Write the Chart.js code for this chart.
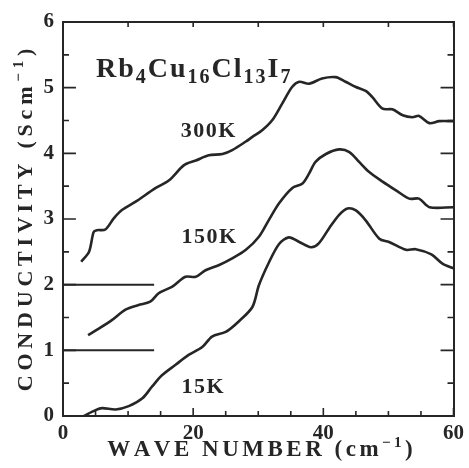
<!DOCTYPE html>
<html>
<head>
<meta charset="utf-8">
<script src="https://cdn.jsdelivr.net/npm/chart.js@4/dist/chart.umd.min.js"></script>
<style>
  html, body { margin: 0; padding: 0; background: #ffffff; }
  #wrap { width: 469px; height: 468px; }
</style>
</head>
<body>
<div id="wrap"><canvas id="c" width="469" height="468"></canvas></div>
<script>
// Optical conductivity of Rb4Cu16Cl13I7 at three temperatures.
// Curves at 150 K and 300 K are shifted upward by 1 and 2 units.
const wave300  = [2.8, 4.0, 4.7, 5.2, 6.5, 7.8, 9.1, 11.1, 14.2, 16.3, 18.6, 20.4, 22.4, 24.5, 26.0, 28.1, 29.1, 30.6, 32.2, 33.7, 35.2, 36.3, 37.8, 39.8, 41.9, 43.4, 45.0, 46.5, 47.5, 49.1, 50.6, 52.2, 53.7, 54.7, 56.3, 57.8, 60.0];
const sigma300 = [2.35, 2.50, 2.80, 2.83, 2.84, 3.01, 3.14, 3.26, 3.47, 3.59, 3.82, 3.89, 3.97, 3.99, 4.05, 4.18, 4.25, 4.35, 4.51, 4.76, 5.01, 5.09, 5.06, 5.14, 5.16, 5.09, 5.01, 4.95, 4.86, 4.68, 4.67, 4.58, 4.55, 4.57, 4.46, 4.49, 4.49];

const wave150  = [3.85, 5.5, 7.5, 9.6, 11.6, 13.4, 14.7, 16.8, 18.8, 20.4, 21.9, 24.0, 26.0, 28.1, 30.1, 31.6, 33.2, 35.2, 36.8, 37.8, 38.8, 40.4, 42.4, 44.0, 45.5, 47.0, 49.1, 51.1, 53.2, 54.7, 56.3, 60.0];
const sigma150 = [1.23, 1.33, 1.46, 1.62, 1.69, 1.74, 1.87, 1.97, 2.12, 2.12, 2.22, 2.30, 2.40, 2.53, 2.73, 2.98, 3.24, 3.47, 3.54, 3.69, 3.87, 3.99, 4.06, 4.02, 3.87, 3.72, 3.57, 3.44, 3.31, 3.31, 3.18, 3.18];

const wave15   = [3.2, 5.0, 6.0, 8.1, 10.1, 12.2, 13.7, 15.2, 17.3, 19.3, 21.4, 22.9, 25.0, 27.0, 29.1, 30.1, 31.6, 33.2, 34.7, 36.3, 38.1, 39.3, 40.9, 42.4, 43.7, 45.0, 46.5, 48.6, 50.1, 52.7, 54.2, 56.6, 58.3, 60.0];
const sigma15  = [0.00, 0.09, 0.12, 0.10, 0.15, 0.27, 0.45, 0.62, 0.78, 0.93, 1.05, 1.21, 1.28, 1.44, 1.66, 1.99, 2.33, 2.62, 2.72, 2.65, 2.57, 2.63, 2.86, 3.06, 3.16, 3.13, 2.98, 2.70, 2.65, 2.53, 2.54, 2.46, 2.32, 2.25];

// zero levels of the shifted curves
const offsetLevels = [1, 2];
const offsetSpan = [0, 14];

const temperatures = ['15K', '150K', '300K'];

// axis ticks: labelled majors and unlabelled minors
const xTickValues  = [0, 20, 40, 60];
const xMinorValues = [0, 5, 10, 15, 20, 25, 30, 35, 40, 45, 50, 55, 60];
const xTopValues   = [0, 10, 20, 30, 40, 50, 60];
const yTickValues  = [0, 1, 2, 3, 4, 5, 6];
const yMinorValues = [0, 0.5, 1, 1.5, 2, 2.5, 3, 3.5, 4, 4.5, 5, 5.5, 6];

const X_RANGE = [0, 60];
const Y_RANGE = [0, 6];

const SERIF = '"Liberation Serif", "Times New Roman", serif';
const INK = '#262626';

// plot box size in pixels, used to turn tick-mark lengths into axis units
const PLOT_W = 392, PLOT_H = 394;
const xUnitsPerPx = (X_RANGE[1] - X_RANGE[0]) / PLOT_W;
const yUnitsPerPx = (Y_RANGE[1] - Y_RANGE[0]) / PLOT_H;

function pts(xs, ys) { return xs.map((x, i) => ({ x: x, y: ys[i] })); }

// short inward tick marks as broken line segments
function verticalMarks(values, base, lenPx, dir) {
  const out = [];
  values.forEach(v => {
    out.push({ x: v, y: base }, { x: v, y: base + dir * lenPx * yUnitsPerPx }, { x: v, y: null });
  });
  return out;
}
function horizontalMarks(values, base, lenPx, dir) {
  const out = [];
  values.forEach(v => {
    out.push({ x: base, y: v }, { x: base + dir * lenPx * xUnitsPerPx, y: v }, { x: null, y: v });
  });
  return out;
}

function runsWidth(ctx, runs, sp) {
  let w = 0;
  runs.forEach(r => {
    ctx.font = 'bold ' + r.size + 'px ' + SERIF;
    for (const ch of r.t) w += ctx.measureText(ch).width + sp;
  });
  return w - sp;
}
function drawRuns(ctx, runs, x, y, sp) {
  runs.forEach(r => {
    ctx.font = 'bold ' + r.size + 'px ' + SERIF;
    for (const ch of r.t) {
      ctx.fillText(ch, x, y + (r.dy || 0));
      x += ctx.measureText(ch).width + sp;
    }
  });
  return x;
}

// formula, temperature labels and the spaced axis titles
const annotations = {
  id: 'annotations',
  afterDraw(chart) {
    const ctx = chart.ctx;
    const xs = chart.scales.x, ys = chart.scales.y;
    ctx.save();
    ctx.fillStyle = INK;
    ctx.textBaseline = 'alphabetic';
    ctx.textAlign = 'left';

    const formula = [
      { t: 'Rb', size: 28 }, { t: '4', size: 20, dy: 6 },
      { t: 'Cu', size: 28 }, { t: '16', size: 20, dy: 6 },
      { t: 'Cl', size: 28 }, { t: '13', size: 20, dy: 6 },
      { t: 'I', size: 28 }, { t: '7', size: 20, dy: 6 }
    ];
    drawRuns(ctx, formula, 96, 77, 2);

    const labelPos = { '300K': [18.1, 4.25], '150K': [18.2, 2.63], '15K': [18.2, 0.35] };
    temperatures.forEach(t => {
      const p = labelPos[t];
      drawRuns(ctx, [{ t: t, size: 22 }], xs.getPixelForValue(p[0]), ys.getPixelForValue(p[1]), 1.5);
    });

    const xTitle = [{ t: 'WAVE NUMBER (cm', size: 23 }, { t: '\u22121', size: 15, dy: -9 }, { t: ')', size: 23 }];
    const xsp = 3.5;
    const xw = runsWidth(ctx, xTitle, xsp);
    drawRuns(ctx, xTitle, 260 - xw / 2, 456, xsp);

    const yTitle = [{ t: 'CONDUCTIVITY (Scm', size: 22 }, { t: '\u22121', size: 15, dy: -9 }, { t: ')', size: 22 }];
    const ysp = 4.8;
    const yw = runsWidth(ctx, yTitle, ysp);
    ctx.translate(32, 220);
    ctx.rotate(-Math.PI / 2);
    drawRuns(ctx, yTitle, -yw / 2, 0, ysp);
    ctx.restore();
  }
};

const curveStyle = { borderColor: INK, borderWidth: 2.6, pointRadius: 0, tension: 0.3, fill: false };
const markStyle = { borderColor: INK, borderWidth: 1.6, pointRadius: 0, tension: 0, fill: false, spanGaps: false, clip: false };

const xMinorOnly = xMinorValues.filter(v => xTickValues.indexOf(v) < 0);
const yMinorOnly = yMinorValues.filter(v => yTickValues.indexOf(v) < 0);

const datasets = [
  Object.assign({ label: temperatures[2], data: pts(wave300, sigma300) }, curveStyle),
  Object.assign({ label: temperatures[1], data: pts(wave150, sigma150) }, curveStyle),
  Object.assign({ label: temperatures[0], data: pts(wave15, sigma15) }, curveStyle)
];
offsetLevels.forEach(level => {
  datasets.push({
    label: 'zero ' + level,
    data: offsetSpan.map(x => ({ x: x, y: level })),
    borderColor: INK, borderWidth: 2, pointRadius: 0, tension: 0, fill: false
  });
});
datasets.push(
  Object.assign({ label: 'bottom ticks', data: verticalMarks(xTickValues, Y_RANGE[0], 8, 1).concat(verticalMarks(xMinorOnly, Y_RANGE[0], 5, 1)) }, markStyle),
  Object.assign({ label: 'top ticks', data: verticalMarks(xTopValues, Y_RANGE[1], 5, -1) }, markStyle),
  Object.assign({ label: 'left ticks', data: horizontalMarks(yTickValues, X_RANGE[0], 13, 1).concat(horizontalMarks(yMinorOnly, X_RANGE[0], 6, 1)) }, markStyle),
  Object.assign({ label: 'right ticks', data: horizontalMarks(yTickValues, X_RANGE[1], 13, -1).concat(horizontalMarks(yMinorOnly, X_RANGE[1], 6, -1)) }, markStyle)
);

const tickFont = { family: SERIF, size: 21, weight: 'bold' };

// Labelled axes carry the numbers and the frame line; zero-size companion
// axes close the frame on the top and right.
function labelAxis(position, range, values, padding, size) {
  const horizontal = position === 'top' || position === 'bottom';
  return {
    type: 'linear', position: position, min: range[0], max: range[1], weight: 1,
    afterBuildTicks: s => { s.ticks = values.map(v => ({ value: v })); },
    ticks: { display: true, autoSkip: false, color: INK, font: tickFont, padding: padding },
    grid: { display: false, drawOnChartArea: false, drawTicks: false },
    border: { display: true, color: INK, width: 2 },
    afterFit: s => { if (horizontal) s.height = size; else s.width = size; }
  };
}
function frameAxis(position, range) {
  const horizontal = position === 'top' || position === 'bottom';
  return {
    type: 'linear', position: position, min: range[0], max: range[1], weight: 0,
    ticks: { display: false, padding: 0 },
    grid: { display: false, drawOnChartArea: false, drawTicks: false },
    border: { display: true, color: INK, width: 2 },
    afterFit: s => { if (horizontal) s.height = 0; else s.width = 0; }
  };
}

new Chart(document.getElementById('c'), {
  type: 'line',
  data: { datasets: datasets },
  options: {
    responsive: false,
    animation: false,
    layout: { padding: { left: 0, top: 22, right: 14, bottom: 0 } },
    plugins: { legend: { display: false }, tooltip: { enabled: false } },
    scales: {
      x:      labelAxis('bottom', X_RANGE, xTickValues, 5, 52),
      xTop:   frameAxis('top', X_RANGE),
      y:      labelAxis('left', Y_RANGE, yTickValues, 9, 63),
      yRight: frameAxis('right', Y_RANGE)
    }
  },
  plugins: [annotations]
});
</script>
</body>
</html>
